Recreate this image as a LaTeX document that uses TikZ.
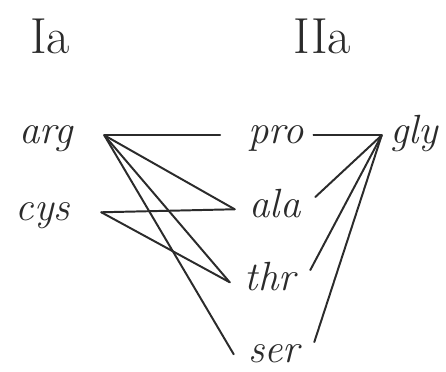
\documentclass[tikz,border=0pt]{standalone}
\usepackage{tikz}
\usetikzlibrary{positioning}
\definecolor{inkDark}{HTML}{2B2B2B}

\begin{document}
\begin{tikzpicture}[x=0.025cm, y=-0.025cm,
    res/.style={anchor=base, font=\fontsize{29}{33}\selectfont\itshape\color{inkDark},
                text height=11pt, text depth=0pt, inner ysep=3pt, minimum width=#1},
    res/.default=2cm,
    head/.style={anchor=base, font=\fontsize{36}{40}\selectfont\color{inkDark}},
    link/.style={draw=inkDark, line width=1.4pt, line cap=round},
  ]
    \useasboundingbox (0,0) rectangle (446,371);

    % column headings
    \node[head] (colI)  at (50,53)  {Ia};
    \node[head] (colII) at (322,53) {IIa};

    % residues
    \node[res=2.9cm] (arg) at (46,143) {arg};
    \node[res=2.9cm] (cys) at (43,220) {cys};
    \node[res]       (pro) at (276,143) {pro};
    \node[res=1.6cm] (gly) at (414,143) {gly};
    \node[res]       (ala) at (275,217) {ala};
    \node[res]       (thr) at (270,290) {thr};
    \node[res]       (ser) at (274,362) {ser};

    % links
    \draw[link, shorten >=11pt] (arg.east) -- (pro.west);
    \draw[link] (arg.east) -- (ala.west);
    \draw[link] (arg.east) -- (thr.west);
    \draw[link] (arg.east) -- (ser.west);
    \draw[link] (cys.east) -- (ala.west);
    \draw[link] (cys.east) -- (thr.west);
    \draw[link, shorten <=-2pt] (pro.east) -- (gly.west);
    \draw[link] (gly.west) -- (ala.north east);
    \draw[link] (gly.west) -- (thr.north east);
    \draw[link] (gly.west) -- (ser.north east);
  \end{tikzpicture}
\end{document}
